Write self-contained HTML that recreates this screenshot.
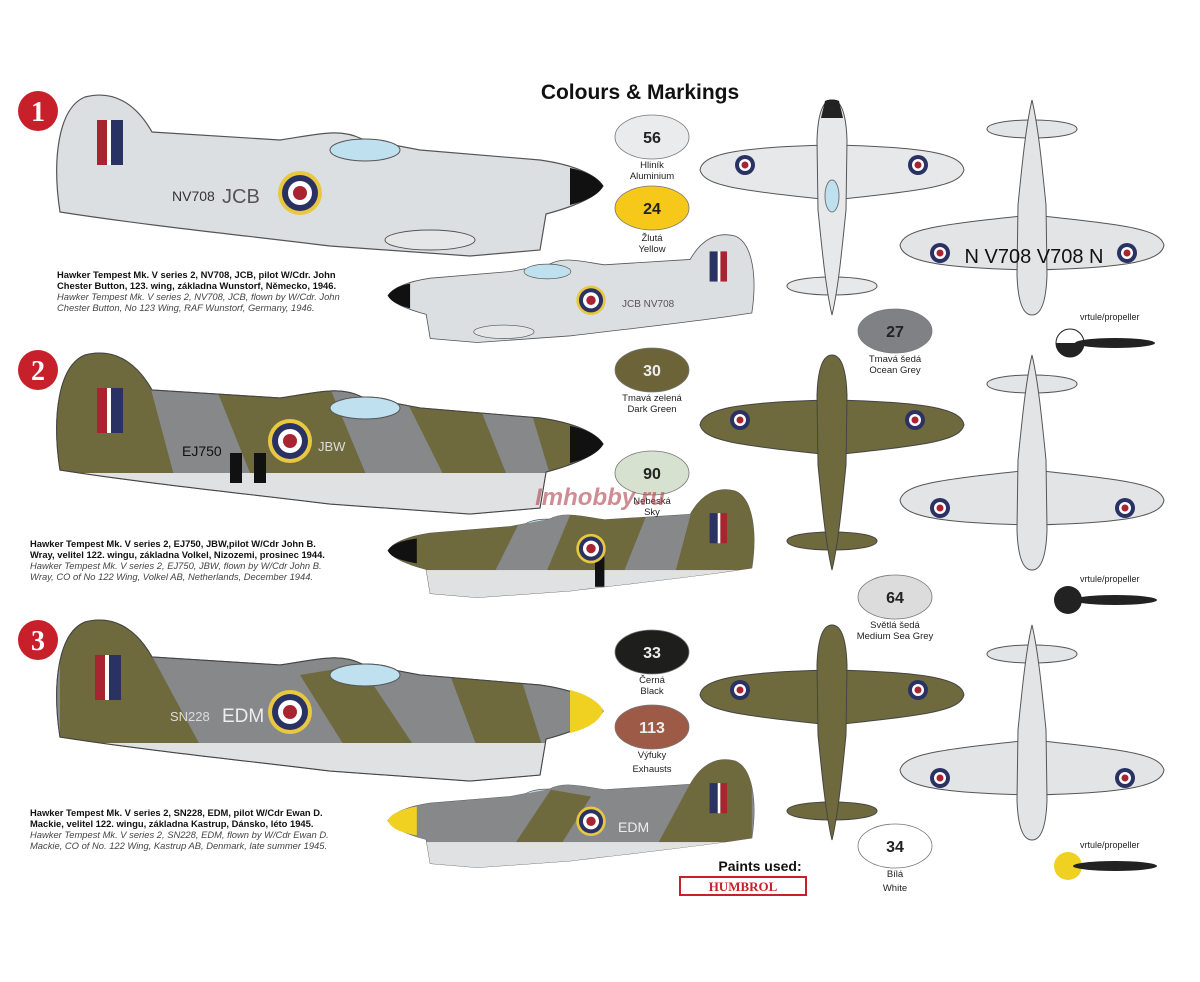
<!DOCTYPE html><html><head><meta charset="utf-8"><style>
body{margin:0;background:#fff}
.c{position:absolute;font-family:"Liberation Sans",sans-serif;font-size:9.4px;line-height:11px;color:#111;white-space:nowrap}
.c i{color:#444}
</style></head><body><div style="position:relative;width:1200px;height:982px;overflow:hidden">
<svg width="1200" height="982" viewBox="0 0 1200 982" xmlns="http://www.w3.org/2000/svg" style="position:absolute;left:0;top:0;font-family:'Liberation Sans',sans-serif">
<defs>
<path id="fus" d="M60,212 C52,160 58,108 85,97 C112,90 135,102 152,132 L280,140 C320,134 340,128 362,139 L420,150 L540,160 C575,165 596,175 603,186 C596,197 576,206 546,214 L540,250 L470,256 L330,246 C250,236 150,226 60,212 Z"/>
<clipPath id="cf"><use href="#fus"/></clipPath>
<g id="roundel"><circle r="22" fill="#e8c840"/><circle r="18" fill="#2a3264"/><circle r="12" fill="#fff"/><circle r="7" fill="#a82430"/></g>
<g id="rsm"><circle r="10" fill="#2a3264"/><circle r="6" fill="#fff"/><circle r="3.5" fill="#a82430"/></g>
<g id="flash"><rect x="0" y="0" width="10" height="45" fill="#a82430"/><rect x="10" y="0" width="4" height="45" fill="#fff"/><rect x="14" y="0" width="12" height="45" fill="#2a3264"/></g>
<g id="side1">
<use href="#fus" fill="#dcdfe2" stroke="#555" stroke-width="1.2"/>
<ellipse cx="365" cy="150" rx="35" ry="11" fill="#bfe0ee" stroke="#555"/>
<ellipse cx="430" cy="240" rx="45" ry="10" fill="#e4e6e8" stroke="#555"/>
<path d="M570,168 C590,172 600,180 603,186 C600,193 590,200 570,205 Z" fill="#111"/>
</g>
<g id="top">
<path d="M-132,70 C-130,55 -100,47 0,45 C100,47 130,55 132,70 C128,85 100,90 0,100 C-100,90 -128,85 -132,70 Z"/>
<path d="M-45,186 C-45,174 45,174 45,186 C45,198 -45,198 -45,186Z"/>
<path d="M-15,40 C-14,10 -8,0 0,0 C8,0 14,10 15,40 L14,110 C10,150 6,190 0,215 C-6,190 -10,150 -14,110Z"/>
</g>
</defs>

<text x="640" y="99" text-anchor="middle" font-size="21" font-weight="bold" fill="#111">Colours &amp; Markings</text>

<g fill="#c8202a"><circle cx="38" cy="111" r="20"/><circle cx="38" cy="370" r="20"/><circle cx="38" cy="640" r="20"/></g>
<g fill="#fff" font-family="Liberation Serif" font-weight="bold" font-size="28" text-anchor="middle"><text x="38" y="121">1</text><text x="38" y="380">2</text><text x="38" y="650">3</text></g>

<!-- plane 1 big -->
<use href="#side1"/>
<use href="#flash" x="97" y="120"/>
<use href="#roundel" x="300" y="193"/>
<text x="172" y="201" font-size="14" fill="#333">NV708</text><text x="222" y="203" font-size="20" fill="#555">JCB</text>
<g transform="translate(792,171) scale(-0.67,0.67)"><use href="#side1"/><use href="#flash" x="97" y="120"/><use href="#roundel" x="300" y="193"/></g>
<text x="622" y="307" font-size="10" fill="#555">JCB NV708</text>

<!-- plane 2 big -->
<g transform="translate(0,258)">
<use href="#side1"/>
<g clip-path="url(#cf)"><rect x="50" y="90" width="560" height="180" fill="#6e6a3e"/>
<path d="M140,90 L200,90 L260,240 L180,240Z M330,130 L400,130 L460,250 L380,250Z M480,150 L530,150 L560,250 L520,250Z" fill="#86888a"/>
<rect x="50" y="215" width="560" height="50" fill="#dfe1e3"/>
<rect x="230" y="195" width="12" height="30" fill="#111"/><rect x="254" y="195" width="12" height="30" fill="#111"/></g>
<use href="#fus" fill="none" stroke="#444"/>
<ellipse cx="365" cy="150" rx="35" ry="11" fill="#bfe0ee" stroke="#555"/>
<path d="M570,168 C590,172 600,180 603,186 C600,193 590,200 570,205 Z" fill="#111"/>
<use href="#flash" x="97" y="130"/><use href="#roundel" x="290" y="183"/>
<text x="182" y="198" font-size="14" fill="#111">EJ750</text><text x="318" y="193" font-size="13" fill="#ddd">JBW</text>
</g>
<g transform="translate(792,426) scale(-0.67,0.67)"><use href="#side1"/>
<g clip-path="url(#cf)"><rect x="50" y="90" width="560" height="180" fill="#6e6a3e"/><path d="M140,90 L200,90 L260,240 L180,240Z M330,130 L400,130 L460,250 L380,250Z" fill="#86888a"/><rect x="50" y="215" width="560" height="50" fill="#dfe1e3"/><rect x="280" y="195" width="14" height="45" fill="#111"/></g>
<path d="M560,168 C590,172 600,180 603,186 C600,193 590,200 560,205 Z" fill="#111"/>
<use href="#flash" x="97" y="130"/><use href="#roundel" x="300" y="183"/></g>

<!-- plane 3 big -->
<g transform="translate(0,525)">
<use href="#side1"/>
<g clip-path="url(#cf)"><rect x="50" y="90" width="560" height="180" fill="#86888a"/>
<path d="M60,90 L130,90 L200,220 L60,220Z M300,150 L360,140 L420,230 L350,230Z M450,150 L520,150 L545,230 L480,230Z" fill="#6e6a3e"/>
<rect x="50" y="218" width="560" height="50" fill="#dfe1e3"/></g>
<use href="#fus" fill="none" stroke="#444"/>
<ellipse cx="365" cy="150" rx="35" ry="11" fill="#bfe0ee" stroke="#555"/>
<path d="M570,165 C590,170 602,180 603,186 C600,195 590,203 570,208 Z" fill="#f0d020"/>
<use href="#flash" x="95" y="130"/><use href="#roundel" x="290" y="187"/>
<text x="170" y="196" font-size="13" fill="#ddd">SN228</text><text x="222" y="197" font-size="19" fill="#eee">EDM</text>
</g>
<g transform="translate(792,696) scale(-0.67,0.67)"><use href="#side1"/>
<g clip-path="url(#cf)"><rect x="50" y="90" width="560" height="180" fill="#86888a"/><path d="M60,90 L130,90 L200,220 L60,220Z M300,150 L360,140 L420,230 L350,230Z" fill="#6e6a3e"/><rect x="50" y="218" width="560" height="50" fill="#dfe1e3"/></g>
<path d="M560,165 C590,170 602,180 603,186 C600,195 590,203 560,208 Z" fill="#f0d020"/>
<use href="#flash" x="97" y="130"/><use href="#roundel" x="300" y="187"/></g>
<text x="618" y="832" font-size="14" fill="#eee">EDM</text>

<!-- top / bottom views -->
<g transform="translate(832,100)" fill="#e6e8ea" stroke="#555"><use href="#top"/></g>
<path d="M825,101 C828,99 836,99 839,101 L843,118 L821,118Z" fill="#222"/>
<ellipse cx="832" cy="196" rx="7" ry="16" fill="#bfe0ee" stroke="#777"/>
<use href="#rsm" x="745" y="165"/><use href="#rsm" x="918" y="165"/>
<g transform="translate(1032,315) scale(1,-1)" fill="#e2e4e6" stroke="#555"><use href="#top"/></g>
<use href="#rsm" x="940" y="253"/><use href="#rsm" x="1127" y="253"/>
<text x="1034" y="263" text-anchor="middle" font-size="20" fill="#111">N V708  V708 N</text>

<g transform="translate(832,355)" fill="#6e6a3e" stroke="#444"><use href="#top"/></g>
<use href="#rsm" x="740" y="420"/><use href="#rsm" x="915" y="420"/>
<g transform="translate(1032,570) scale(1,-1)" fill="#e2e4e6" stroke="#555"><use href="#top"/></g>
<use href="#rsm" x="940" y="508"/><use href="#rsm" x="1125" y="508"/>

<g transform="translate(832,625)" fill="#6e6a3e" stroke="#444"><use href="#top"/></g>
<use href="#rsm" x="740" y="690"/><use href="#rsm" x="918" y="690"/>
<g transform="translate(1032,840) scale(1,-1)" fill="#e2e4e6" stroke="#555"><use href="#top"/></g>
<use href="#rsm" x="940" y="778"/><use href="#rsm" x="1125" y="778"/>

<!-- propellers -->
<g font-size="9" fill="#222">
<text x="1080" y="320">vrtule/propeller</text><text x="1080" y="582">vrtule/propeller</text><text x="1080" y="848">vrtule/propeller</text></g>
<g fill="#222"><circle cx="1070" cy="343" r="14" fill="#fff" stroke="#222"/><path d="M1056,343 A14,14 0 0 0 1084,343Z"/><ellipse cx="1115" cy="343" rx="40" ry="5"/>
<circle cx="1068" cy="600" r="14"/><ellipse cx="1115" cy="600" rx="42" ry="5"/>
<circle cx="1068" cy="866" r="14" fill="#f0d020"/><ellipse cx="1115" cy="866" rx="42" ry="5"/></g>

<!-- paints -->
<g stroke="#777" stroke-width="0.8">
<ellipse cx="652" cy="137" rx="37" ry="22" fill="#e9ebec"/>
<ellipse cx="652" cy="208" rx="37" ry="22" fill="#f6c819"/>
<ellipse cx="895" cy="331" rx="37" ry="22" fill="#7f8184"/>
<ellipse cx="652" cy="370" rx="37" ry="22" fill="#6c6338"/>
<ellipse cx="652" cy="473" rx="37" ry="22" fill="#d7e1cf"/>
<ellipse cx="895" cy="597" rx="37" ry="22" fill="#dcdcdc"/>
<ellipse cx="652" cy="652" rx="37" ry="22" fill="#1e1e1c"/>
<ellipse cx="652" cy="727" rx="37" ry="22" fill="#9d5a46"/>
<ellipse cx="895" cy="846" rx="37" ry="22" fill="#fff"/></g>
<g font-size="16" font-weight="bold" text-anchor="middle"><text x="652" y="143" fill="#222">56</text><text x="652" y="214" fill="#222">24</text><text x="895" y="337" fill="#222">27</text><text x="652" y="376" fill="#eee">30</text><text x="652" y="479" fill="#222">90</text><text x="895" y="603" fill="#222">64</text><text x="652" y="658" fill="#eee">33</text><text x="652" y="733" fill="#eee">113</text><text x="895" y="852" fill="#222">34</text></g>
<g font-size="9.5" text-anchor="middle" fill="#222">
<text x="652" y="168">Hliník</text><text x="652" y="179">Aluminium</text>
<text x="652" y="241">Žlutá</text><text x="652" y="252">Yellow</text>
<text x="895" y="362">Tmavá šedá</text><text x="895" y="373">Ocean Grey</text>
<text x="652" y="401">Tmavá zelená</text><text x="652" y="412">Dark Green</text>
<text x="652" y="504">Nebeská</text><text x="652" y="515">Sky</text>
<text x="895" y="628">Světlá šedá</text><text x="895" y="639">Medium Sea Grey</text>
<text x="652" y="683">Černá</text><text x="652" y="694">Black</text>
<text x="652" y="758">Výfuky</text><text x="652" y="772">Exhausts</text>
<text x="895" y="877">Bílá</text><text x="895" y="891">White</text></g>
<text x="760" y="871" text-anchor="middle" font-size="14" font-weight="bold" fill="#111">Paints used:</text>
<rect x="680" y="877" width="126" height="18" fill="#fff" stroke="#c8202a" stroke-width="2"/>
<text x="743" y="891" text-anchor="middle" font-size="13" font-weight="bold" font-family="Liberation Serif" fill="#c8202a">HUMBROL</text>
<text x="600" y="505" text-anchor="middle" font-size="24" font-style="italic" font-weight="bold" fill="#b0404a" opacity="0.6">Imhobby.ru</text>
</svg>
<div class="c" style="left:57px;top:269px"><b>Hawker Tempest Mk. V series 2, NV708, JCB, pilot W/Cdr. John<br>Chester Button, 123. wing, základna Wunstorf, Německo, 1946.</b><br><i>Hawker Tempest Mk. V series 2, NV708, JCB, flown by W/Cdr. John<br>Chester Button, No 123 Wing, RAF Wunstorf, Germany, 1946.</i></div>
<div class="c" style="left:30px;top:538px"><b>Hawker Tempest Mk. V series 2, EJ750, JBW,pilot W/Cdr John B.<br>Wray, velitel 122. wingu, základna Volkel, Nizozemi, prosinec 1944.</b><br><i>Hawker Tempest Mk. V series 2, EJ750, JBW, flown by W/Cdr John B.<br>Wray, CO of No 122 Wing, Volkel AB, Netherlands, December 1944.</i></div>
<div class="c" style="left:30px;top:807px"><b>Hawker Tempest Mk. V series 2, SN228, EDM, pilot W/Cdr Ewan D.<br>Mackie, velitel 122. wingu, základna Kastrup, Dánsko, léto 1945.</b><br><i>Hawker Tempest Mk. V series 2, SN228, EDM, flown by W/Cdr Ewan D.<br>Mackie, CO of No. 122 Wing, Kastrup AB, Denmark, late summer 1945.</i></div>
</div></body></html>
